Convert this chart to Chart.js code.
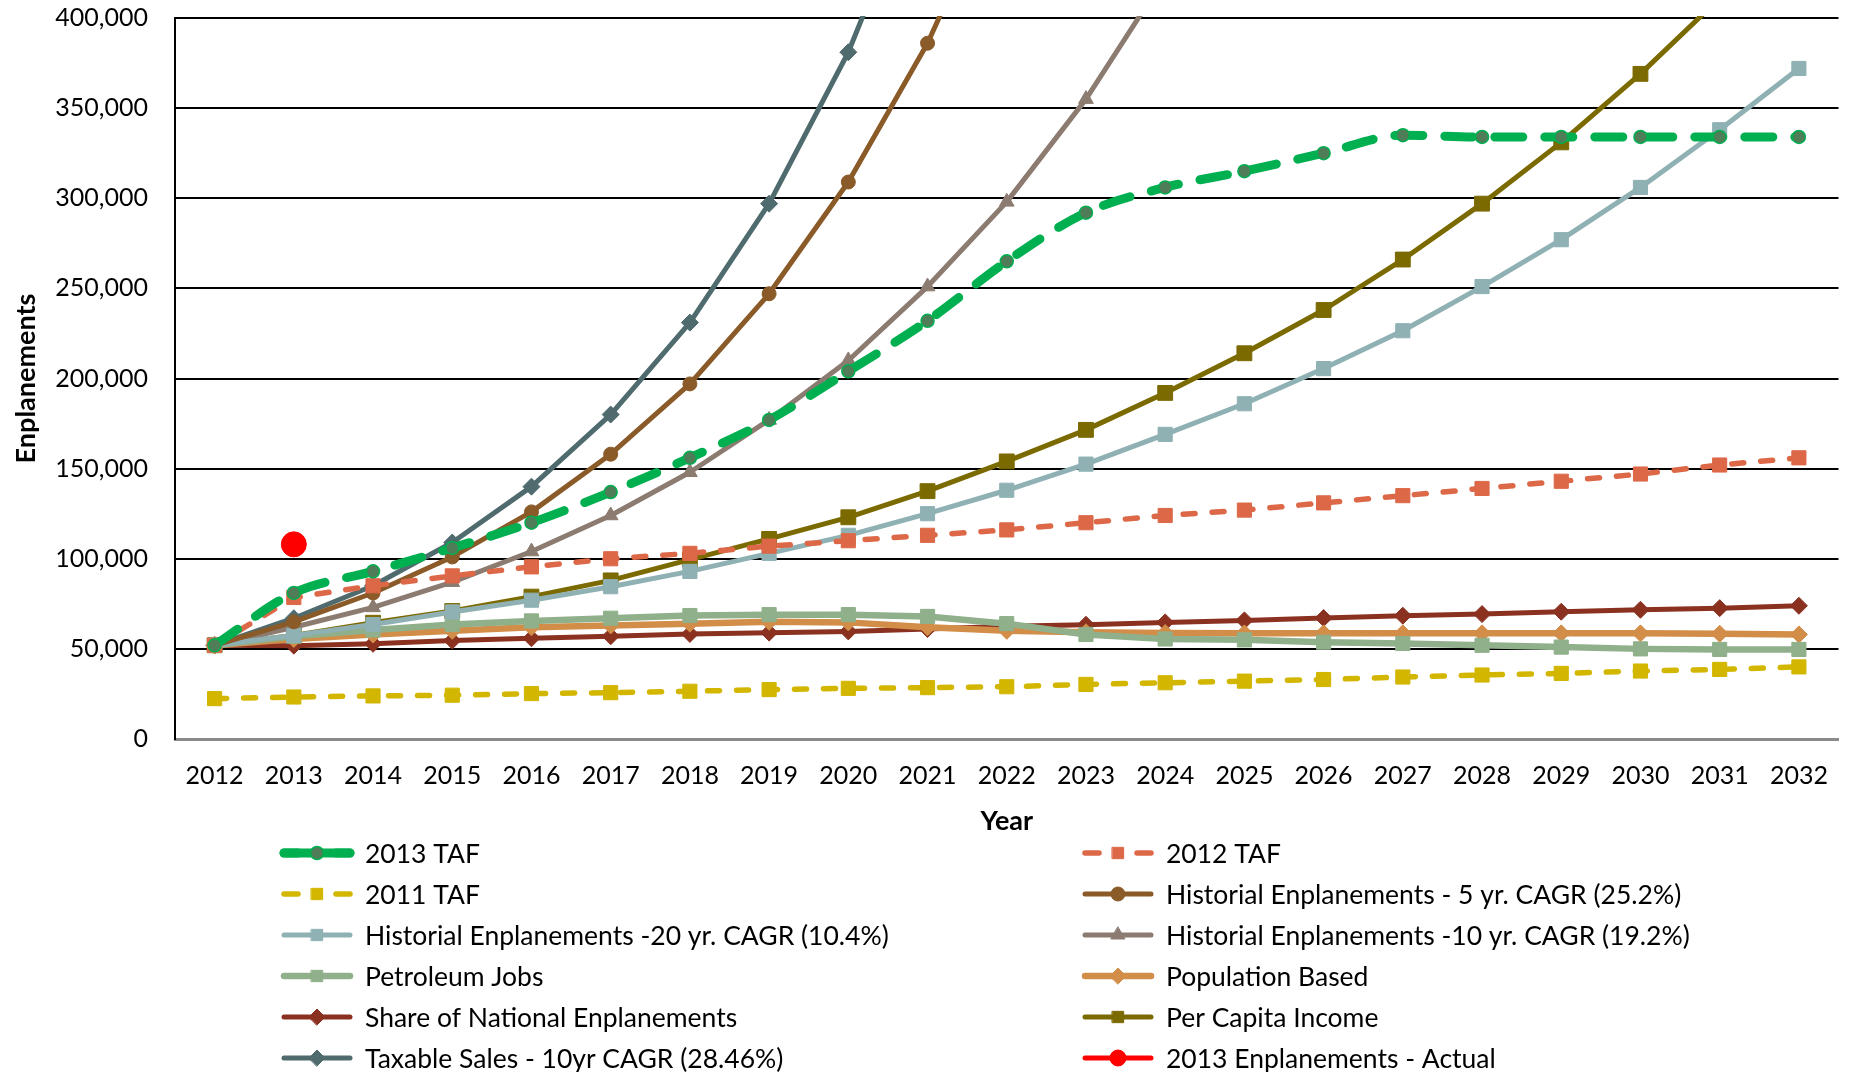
<!DOCTYPE html>
<html><head><meta charset="utf-8">
<script src="https://cdn.jsdelivr.net/npm/chart.js@4.4.0/dist/chart.umd.min.js"></script>
<style>html,body{margin:0;padding:0;background:#fff;}#wrap{width:1852px;height:1072px;}</style>
</head><body><div id="wrap"><canvas id="c" width="1852" height="1072"></canvas></div>
<script>
const years = ['2012','2013','2014','2015','2016','2017','2018','2019','2020','2021','2022','2023','2024','2025','2026','2027','2028','2029','2030','2031','2032'];
const yTicks = [0,50000,100000,150000,200000,250000,300000,350000,400000];

const taf2013   = [52000,81000,93000,106000,120000,137000,156000,177000,204000,232000,265000,292000,306000,315000,325000,335000,334000,334000,334000,334000,334000];
const taf2012   = [52000,78500,85000,90500,95500,100000,103000,107000,110000,113000,116000,120000,124000,127000,131000,135000,139000,143000,147000,152000,156000];
const taf2011   = [22400,23300,23900,24300,25200,25700,26500,27400,28100,28500,29000,30300,31200,32100,33000,34400,35500,36400,37700,38600,40000];
const hist5yr   = [52000,65000,81000,101000,126000,158000,197000,247000,309000,386000,483000,null,null,null,null,null,null,null,null,null,null];
const hist20yr  = [52000,57500,63500,70500,77000,84500,93000,103000,113000,125000,138000,152500,169000,186000,205500,226500,251000,277000,306000,338000,372000];
const hist10yr  = [52000,62000,73000,87000,104000,124000,148000,177000,210000,251000,298000,355000,423000,null,null,null,null,null,null,null,null];
const petroleum = [52000,57000,60500,63500,65500,67000,68500,69000,69000,68000,64000,58000,55500,55000,53700,53000,52000,51000,50000,49700,49700];
const population= [52000,55500,58000,60000,62000,63000,64000,65000,64700,62000,60000,59200,58800,58600,58600,58600,58600,58600,58600,58400,58000];
const shareNat  = [52000,51800,52800,54600,55900,57000,58300,59000,59700,61000,62500,63400,64700,65800,67100,68400,69300,70600,71700,72600,73900];
const perCapita = [52000,57500,64500,71000,79000,88000,99500,111000,123000,137500,154000,171500,192000,214000,238000,266000,297000,331000,369000,411000,null];
const taxable   = [52000,67000,85000,109000,140000,180000,231000,297000,381000,490000,null,null,null,null,null,null,null,null,null,null,null];
const actual2013= [null,108000,null,null,null,null,null,null,null,null,null,null,null,null,null,null,null,null,null,null,null];

const FONT = 'Lato';

function ds(label, data, color, opts) {
  return Object.assign({
    label, data,
    borderColor: color, backgroundColor: color,
    pointBackgroundColor: color, pointBorderColor: color,
    borderWidth: 5, pointRadius: 7, pointBorderWidth: 1,
    pointStyle: 'rect', borderCapStyle: 'round', borderJoinStyle: 'round',
    tension: 0, spanGaps: false, clip: 2, fill: false
  }, opts || {});
}

const datasets = [
  ds('2013 TAF', taf2013, '#00b050', {borderWidth: 9, borderDash: [28, 22], pointStyle: 'circle', pointRadius: 6.5,
     pointBackgroundColor: '#4e7d58', pointBorderColor: '#00b050', pointBorderWidth: 1.5, cubicInterpolationMode: 'monotone'}),
  ds('2012 TAF', taf2012, '#dc6848', {borderWidth: 5.5, borderDash: [12, 17], pointRadius: 10}),
  ds('2011 TAF', taf2011, '#d2b600', {borderWidth: 5.5, borderDash: [12, 17], pointRadius: 10}),
  ds('Historial Enplanements - 5 yr. CAGR (25.2%)', hist5yr, '#8a5a28', {pointStyle: 'circle', pointRadius: 7}),
  ds('Historial Enplanements -20 yr. CAGR (10.4%)', hist20yr, '#8fb1b4', {pointRadius: 10}),
  ds('Historial Enplanements -10 yr. CAGR (19.2%)', hist10yr, '#8c7b70', {pointStyle: 'triangle', pointRadius: 8.5}),
  ds('Petroleum Jobs', petroleum, '#8fb08a', {borderWidth: 6.5, pointRadius: 10}),
  ds('Population Based', population, '#d28d48', {borderWidth: 6.5, pointStyle: 'rectRot', pointRadius: 8.5}),
  ds('Share of National Enplanements', shareNat, '#8a3120', {pointStyle: 'rectRot', pointRadius: 8.5}),
  ds('Per Capita Income', perCapita, '#7b6a00', {pointRadius: 10.5}),
  ds('Taxable Sales - 10yr CAGR (28.46%)', taxable, '#4f6b6e', {pointStyle: 'rectRot', pointRadius: 8.5}),
  ds('2013 Enplanements - Actual', actual2013, '#ff0000', {pointStyle: 'circle', pointRadius: 12.5, showLine: false, order: -1})
];

const legendPlugin = {
  id: 'twoColLegend',
  afterDraw(chart) {
    const ctx = chart.ctx;
    const colX = [280, 1081];
    const rowY0 = 853, rowDy = 41;
    chart.data.datasets.forEach((d, i) => {
      const col = i % 2, row = Math.floor(i / 2);
      const x0 = colX[col], y = rowY0 + row * rowDy;
      ctx.save();
      ctx.strokeStyle = d.borderColor;
      ctx.lineWidth = d.borderWidth;
      ctx.lineCap = 'round';
      if (d.borderDash) {
        ctx.setLineDash([]);
        ctx.beginPath(); ctx.moveTo(x0 + 4, y); ctx.lineTo(x0 + 18, y); ctx.stroke();
        ctx.beginPath(); ctx.moveTo(x0 + 56, y); ctx.lineTo(x0 + 70, y); ctx.stroke();
        if (d.borderWidth >= 7) {
          ctx.beginPath(); ctx.moveTo(x0 + 4, y); ctx.lineTo(x0 + 70, y); ctx.stroke();
        }
      } else {
        ctx.beginPath(); ctx.moveTo(x0 + 4, y); ctx.lineTo(x0 + 70, y); ctx.stroke();
      }
      ctx.fillStyle = d.pointBackgroundColor;
      ctx.strokeStyle = d.pointBorderColor;
      ctx.lineWidth = d.pointBorderWidth;
      const r = d.label.indexOf('Actual') >= 0 ? 8 : Math.min(d.pointRadius, 8);
      Chart.helpers.drawPoint(ctx, {pointStyle: d.pointStyle, radius: r, borderWidth: d.pointBorderWidth, rotation: 0}, x0 + 37, y);
      ctx.fillStyle = '#000';
      ctx.font = '26.5px ' + FONT;
      ctx.textBaseline = 'middle';
      ctx.textAlign = 'left';
      ctx.fillText(d.label, x0 + 85, y + 1);
      ctx.restore();
    });
  }
};

new Chart(document.getElementById('c'), {
  type: 'line',
  data: { labels: years, datasets },
  plugins: [legendPlugin],
  options: {
    responsive: false,
    animation: false,
    devicePixelRatio: 1,
    layout: { padding: { top: 18, right: 0, bottom: 233, left: 0 } },
    plugins: { legend: { display: false }, tooltip: { enabled: false }, title: { display: false } },
    scales: {
      x: {
        type: 'category',
        offset: true,
        afterFit: (s) => { s.height = 100; },
        grid: { display: false, drawTicks: false },
        border: { display: true, color: '#8a8a8a', width: 3 },
        ticks: { color: '#000', font: { family: FONT, size: 25 }, padding: 22, maxRotation: 0, autoSkip: false },
        title: { display: true, text: 'Year', color: '#000', font: { family: FONT, size: 27, weight: 'bold' }, padding: { top: 0, bottom: 2 } }
      },
      y: {
        min: 0, max: 400000,
        afterFit: (s) => { s.width = 175; s.paddingTop = 0; s.paddingBottom = 0; },
        afterBuildTicks: (s) => { s.ticks = yTicks.map(v => ({ value: v })); },
        grid: { drawTicks: false, lineWidth: 2, color: (c) => (c.tick && c.tick.value === 0) ? '#8a8a8a' : '#000' },
        border: { display: true, color: '#000', width: 2 },
        ticks: { color: '#000', font: { family: FONT, size: 25 }, padding: 27, callback: (v) => Number(v).toLocaleString('en-US') },
        title: { display: true, text: 'Enplanements', color: '#000', font: { family: FONT, size: 27, weight: 'bold' }, padding: { top: 10, bottom: 0 } }
      }
    }
  }
});
</script>
</body></html>
